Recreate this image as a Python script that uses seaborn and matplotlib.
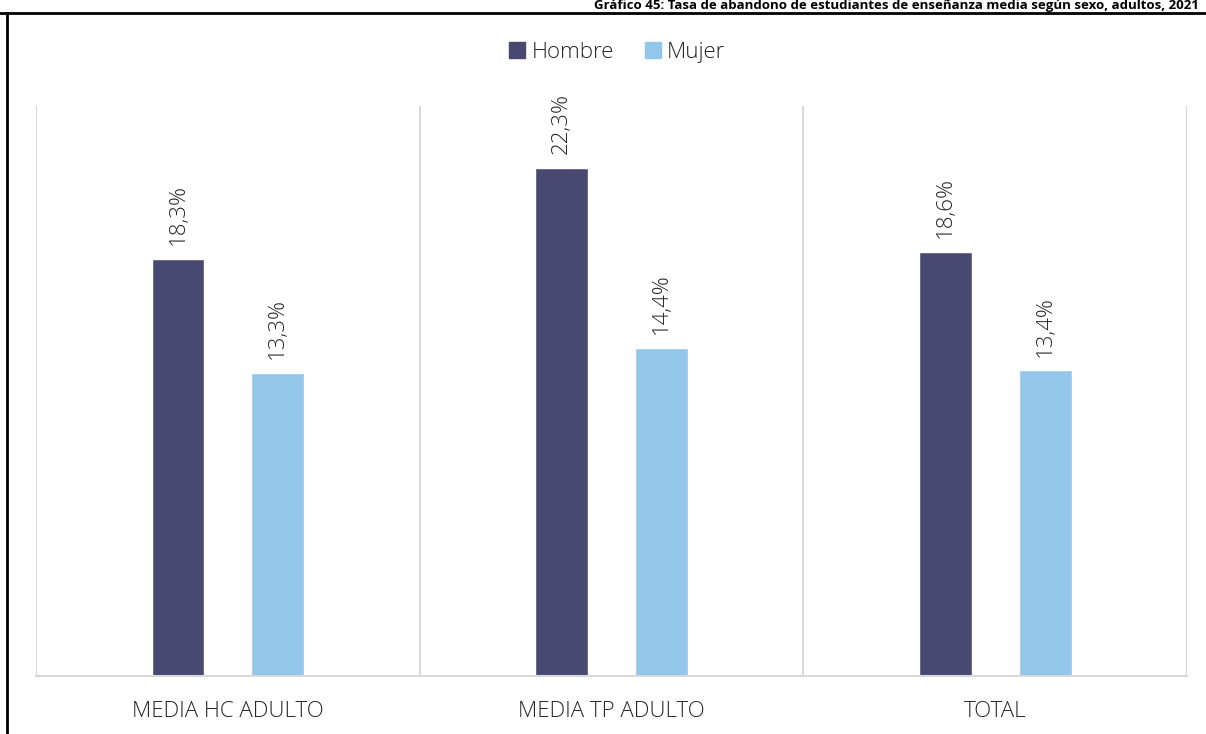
# Tasa de abandono de estudiantes de enseñanza media según sexo, adultos, 2021
import pandas as pd
import matplotlib.pyplot as plt
import seaborn as sns
from matplotlib.lines import Line2D

# Data
categorias = ["MEDIA HC ADULTO", "MEDIA TP ADULTO", "TOTAL"]
hombre = [18.3, 22.3, 18.6]
mujer = [13.3, 14.4, 13.4]
series = ["Hombre", "Mujer"]
colores = ["#494871", "#92C6EA"]
titulo = "Gráfico 45: Tasa de abandono de estudiantes de enseñanza media según sexo, adultos, 2021"

df = pd.DataFrame({
    "categoria": categorias * 2,
    "sexo": [series[0]] * 3 + [series[1]] * 3,
    "valor": hombre + mujer,
})

sns.set_theme(style="white")
plt.rcParams["font.family"] = ["Open Sans", "DejaVu Sans"]

fig = plt.figure(figsize=(12.06, 7.34), dpi=100)
ax = fig.add_axes([0.0299, 0.079, 0.9544, 0.7766])

sns.barplot(
    data=df, x="categoria", y="valor", hue="sexo", order=categorias,
    hue_order=series, palette=colores, width=0.52, gap=0.47,
    saturation=1, ax=ax, legend=False,
)

ax.set_ylim(0, 25)
ax.set_xlim(-0.5, len(categorias) - 0.5)
ax.set_xlabel("")
ax.set_ylabel("")
ax.set_yticks([])
ax.tick_params(axis="x", length=0, pad=18, labelsize=16, labelcolor="#262626")
for lbl in ax.get_xticklabels():
    lbl.set_fontweight("light")
for s in ["top", "right", "left"]:
    ax.spines[s].set_visible(False)
ax.spines["bottom"].set_color("#D9D9D9")
ax.spines["bottom"].set_linewidth(1.5)

# category separators
ax.vlines([i - 0.5 for i in range(len(categorias) + 1)], 0, 25,
          color="#D9D9D9", linewidth=1.5, zorder=0)

# value labels
for cont in ax.containers:
    etiquetas = [f"{b.get_height():.1f}".replace(".", ",") + "%" for b in cont]
    ax.bar_label(cont, labels=etiquetas, rotation=90, padding=10,
                 fontsize=16, fontweight="light", color="#262626")

# legend
handles = [plt.Rectangle((0, 0), 1, 1, color=c) for c in colores]
fig.legend(handles, series, loc="center", bbox_to_anchor=(0.512, 0.929),
           ncol=2, frameon=False, handlelength=0.7,
           handleheight=0.7, handletextpad=0.3, columnspacing=1.4,
           prop={"size": 16, "weight": "light"})

# frame and title
fig.add_artist(Line2D([0, 1], [0.9825, 0.9825], color="black", linewidth=2,
                      transform=fig.transFigure))
fig.add_artist(Line2D([0.0055, 0.0055], [0, 0.9825], color="black", linewidth=2,
                      transform=fig.transFigure))
fig.text(0.994, 0.9875, titulo, ha="right", va="baseline", fontsize=9.5,
         fontweight="bold", color="black")

fig.savefig("out.png", dpi=100)
